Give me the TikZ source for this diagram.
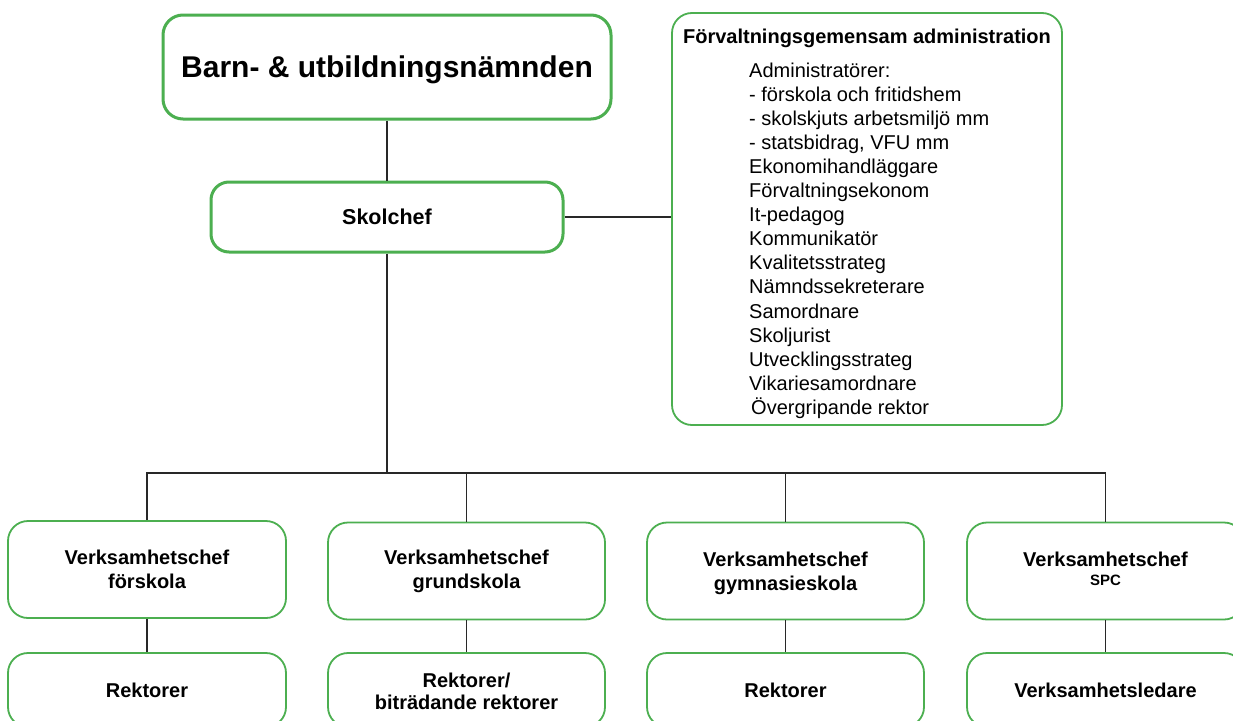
\documentclass[tikz,border=0pt]{standalone}
\usepackage{fontspec}
\setmainfont{Liberation Sans}
\definecolor{boxgreen}{RGB}{76,175,80}
\definecolor{linegray}{RGB}{40,40,40}
\tikzset{
  box/.style={draw=boxgreen, line width=1.8pt, rounded corners=20pt, fill=white, inner sep=0pt, align=center, text depth=0pt},
  mainbox/.style={box, line width=3pt},
  conn/.style={draw=linegray, line width=1.5pt},
  vc/.style={font=\fontsize{20}{24}\selectfont\bfseries},
  adm/.style={font=\fontsize{20}{24}\selectfont, anchor=base west, inner sep=0pt},
}
\begin{document}
\begin{tikzpicture}[x=1pt,y=-1pt]
\useasboundingbox (0,0) rectangle (1233,720);
\clip (0,0) rectangle (1233,720);
\fill[white] (0,0) rectangle (1233,720);

% top boxes
\node[mainbox, minimum width=448pt, minimum height=104pt, font=\fontsize{30}{34}\selectfont\bfseries] (bun) at (387,67) {Barn- \& utbildningsnämnden};
\node[mainbox, rounded corners=18pt, minimum width=352pt, minimum height=70pt, font=\fontsize{21.5}{24}\selectfont\bfseries] (skol) at (387,217) {Skolchef};

% admin box
\node[box, minimum width=390pt, minimum height=412pt] (adm) at (867,219) {};
\node[anchor=base, inner sep=0pt, font=\fontsize{20}{24}\selectfont\bfseries] (admtitle) at (867,43) {Förvaltningsgemensam administration};
\foreach \t [count=\i] in {Administratörer:, - förskola och fritidshem, - skolskjuts arbetsmiljö mm, {- statsbidrag, VFU mm}, Ekonomihandläggare, Förvaltningsekonom, It-pedagog, Kommunikatör, Kvalitetsstrateg, Nämndssekreterare, Samordnare, Skoljurist, Utvecklingsstrateg, Vikariesamordnare}
  \node[adm] (adml\i) at (749,{77+(\i-1)*24.1}) {\t};
\node[adm] (adml15) at (751,{77+14*24.1}) {Övergripande rektor};

% row 1
\node[box, vc, minimum width=278pt, minimum height=97pt, text depth=] (v1) at (147,569.5) {Verksamhetschef\\förskola};
\node[box, vc, minimum width=277pt, minimum height=97pt, text depth=] (v2) at (466.5,571) {Verksamhetschef\\grundskola};
\node[box, minimum width=277pt, minimum height=97pt] (v3) at (785.5,571) {};
\node[anchor=base, inner sep=0pt, vc] (v3a) at (785.5,566) {Verksamhetschef};
\node[anchor=base, inner sep=0pt, vc] (v3b) at (785.5,590) {gymnasieskola};
\node[box, minimum width=277pt, minimum height=97pt] (v4) at (1105.5,571) {};
\node[anchor=base, inner sep=0pt, vc] (v4a) at (1105.5,566) {Verksamhetschef};
\node[anchor=base, inner sep=0pt, font=\fontsize{15}{18}\selectfont\bfseries] (v4b) at (1105.5,585) {SPC};

% row 2
\node[box, vc, minimum width=278pt, minimum height=74pt] (r1) at (147,690) {Rektorer};
\node[box, minimum width=277pt, minimum height=74pt] (r2) at (466.5,690) {};
\node[anchor=base, inner sep=0pt, vc] (r2a) at (466.5,687) {Rektorer/};
\node[anchor=base, inner sep=0pt, vc] (r2b) at (466.5,709) {biträdande rektorer};
\node[box, vc, minimum width=277pt, minimum height=74pt] (r3) at (785.5,690) {Rektorer};
\node[box, vc, minimum width=277pt, minimum height=74pt] (r4) at (1105.5,690) {Verksamhetsledare};

% connectors
\coordinate (bus) at (387,473);
\draw[conn] (bun.south) -- (skol.north);
\draw[conn] (skol.east) -- (skol.east -| adm.west);
\draw[conn] (skol.south) -- (bus);
\draw[conn] (v1.north) |- (v4.north |- bus) -- (v4.north);
\draw[conn] (v2.north) -- (v2.north |- bus);
\draw[conn] (v3.north) -- (v3.north |- bus);
\draw[conn] (v1.south) -- (r1.north);
\draw[conn] (v2.south) -- (r2.north);
\draw[conn] (v3.south) -- (r3.north);
\draw[conn] (v4.south) -- (r4.north);
\end{tikzpicture}
\end{document}
